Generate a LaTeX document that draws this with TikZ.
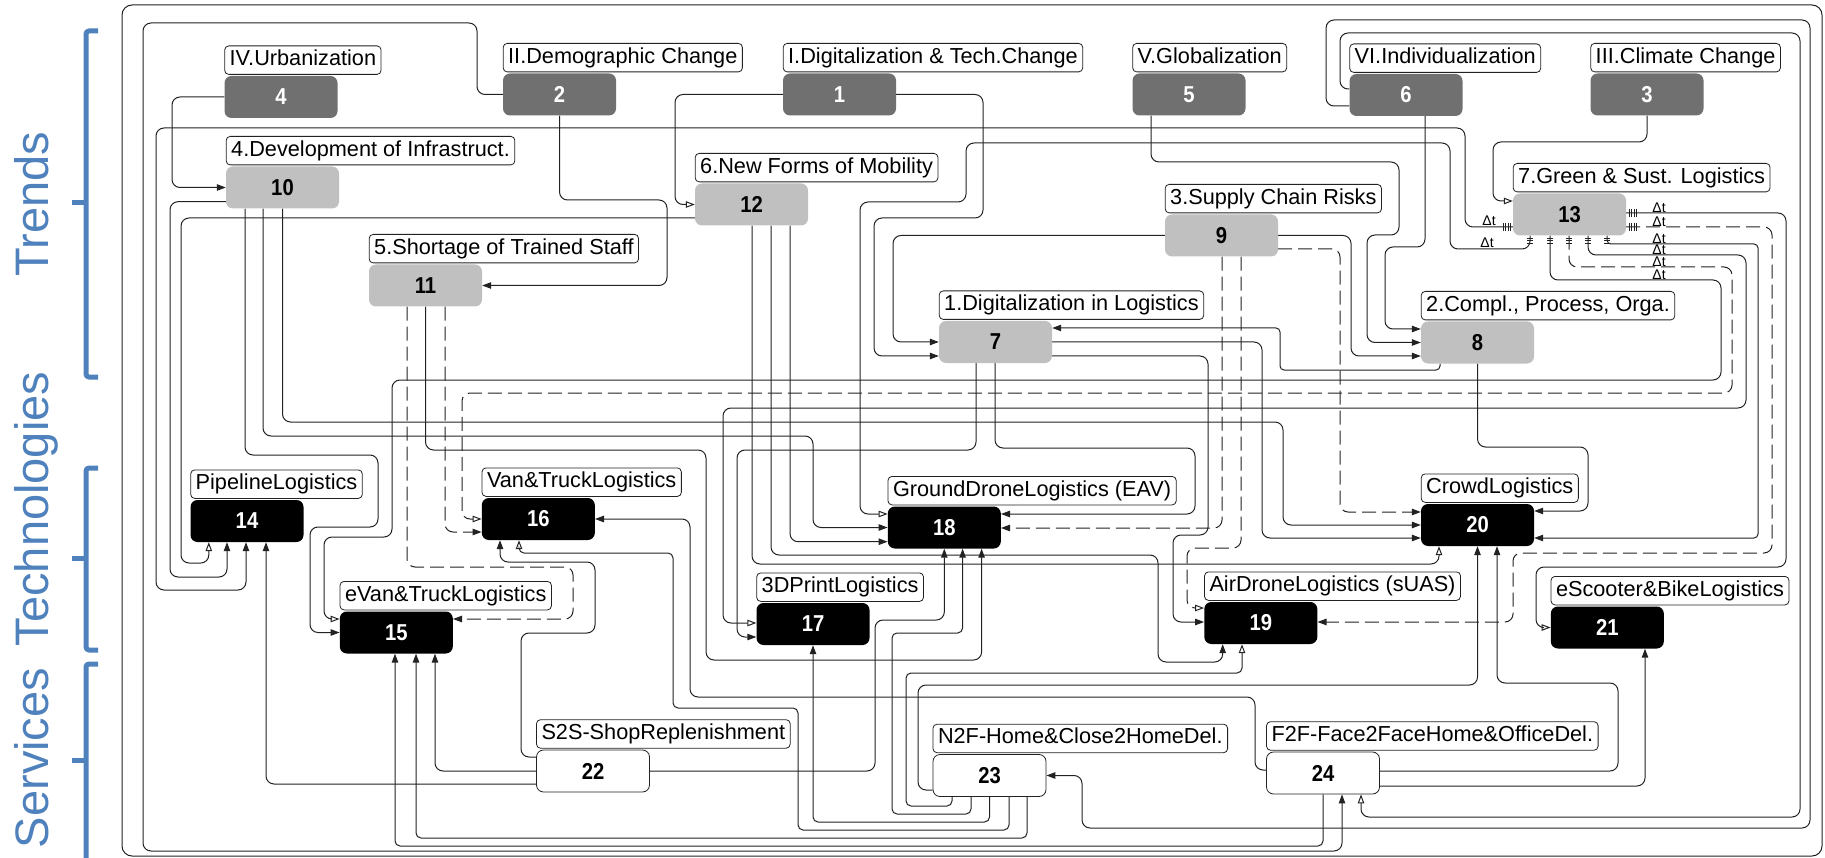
\documentclass[tikz,border=0pt]{standalone}
\usepackage{fontspec}
\setmainfont{Liberation Sans}
\newfontfamily\numfont[FakeStretch=0.88]{Liberation Sans Bold}
\usetikzlibrary{arrows.meta}
\definecolor{dkbox}{HTML}{707070}
\definecolor{ltbox}{HTML}{C0C0C0}
\definecolor{bluet}{HTML}{4F81BD}
\definecolor{lncol}{HTML}{222222}
\pgfdeclarelayer{bg}
\pgfsetlayers{bg,main}
\tikzset{
  box/.style={rectangle, rounded corners=7pt, minimum width=113pt, minimum height=42pt, inner sep=0pt, font=\numfont\fontsize{23pt}{23pt}\selectfont},
  trendbox/.style={box, fill=dkbox, text=white},
  fieldbox/.style={box, fill=ltbox, text=black},
  techbox/.style={box, fill=black, text=white},
  servbox/.style={box, fill=white, draw=lncol, line width=0.8pt, text=black},
  lab/.style={draw=lncol, fill=white, rounded corners=4pt, line width=0.8pt, inner xsep=5pt, inner ysep=0pt, minimum height=28.5pt, text height=15.5pt, text depth=4.5pt, font=\fontsize{21.7pt}{24pt}\selectfont, anchor=south west},
  conn/.style={draw=lncol, line width=1pt, rounded corners=8pt, -{Triangle[length=9pt,width=6.5pt]}},
  oconn/.style={conn, -{Triangle[open,length=9pt,width=6.5pt]}},
  dconn/.style={conn, dash pattern=on 14pt off 6pt},
  doconn/.style={oconn, dash pattern=on 14pt off 6pt},
  tick/.style={draw=lncol, line width=0.8pt},
  dt/.style={font=\fontsize{14pt}{14pt}\selectfont, inner sep=0pt, anchor=base},
  brace/.style={draw=bluet, line width=5pt, rounded corners=3pt, line join=round},
  side/.style={text=bluet, rotate=90, anchor=base, font=\fontsize{47pt}{47pt}\selectfont, inner sep=0pt},
}
\begin{document}
\begin{tikzpicture}[x=1pt,y=-1pt]
\useasboundingbox (0,0) rectangle (1825,858);
% ---------- boxes
\node[trendbox] (n4) at (281,97) {4};
\node[trendbox] (n2) at (559.5,94.5) {2};
\node[trendbox] (n1) at (839.5,94.5) {1};
\node[trendbox] (n5) at (1189,94.5) {5};
\node[trendbox] (n6) at (1406,95) {6};
\node[trendbox] (n3) at (1647,94.5) {3};
\node[fieldbox] (n10) at (282.5,187.5) {10};
\node[fieldbox] (n12) at (751.5,204.5) {12};
\node[fieldbox] (n13) at (1569.5,214.5) {13};
\node[fieldbox] (n9) at (1221.5,235.5) {9};
\node[fieldbox] (n11) at (425.5,285.5) {11};
\node[fieldbox] (n7) at (995.5,342) {7};
\node[fieldbox] (n8) at (1477.5,342.5) {8};
\node[techbox] (n14) at (247,521) {14};
\node[techbox] (n16) at (538.3,519) {16};
\node[techbox] (n18) at (944.3,527.5) {18};
\node[techbox] (n20) at (1477.5,525) {20};
\node[techbox] (n15) at (396.3,632.5) {15};
\node[techbox] (n17) at (813,624) {17};
\node[techbox] (n19) at (1260.8,623) {19};
\node[techbox] (n21) at (1607.3,627.5) {21};
\node[servbox] (n22) at (593,771) {22};
\node[servbox] (n23) at (989.5,775.5) {23};
\node[servbox] (n24) at (1323,773) {24};
% ---------- labels
\node[lab] (l4) at ([yshift=1pt]n4.north west) {IV.Urbanization};
\node[lab] (l2) at ([yshift=1pt]n2.north west) {II.Demographic Change};
\node[lab] (l1) at ([yshift=1pt]n1.north west) {I.Digitalization \& Tech.Change};
\node[lab] (l5) at ([yshift=1pt]n5.north west) {V.Globalization};
\node[lab] (l6) at ([yshift=1pt]n6.north west) {VI.Individualization};
\node[lab] (l3) at ([yshift=1pt]n3.north west) {III.Climate Change};
\node[lab] (l10) at ([yshift=1pt]n10.north west) {4.Development of Infrastruct.};
\node[lab] (l12) at ([yshift=1pt]n12.north west) {6.New Forms of Mobility};
\node[lab] (l13) at ([yshift=1pt]n13.north west) {7.Green \& Sust. Logistics};
\node[lab] (l9) at ([yshift=1pt]n9.north west) {3.Supply Chain Risks};
\node[lab] (l11) at ([yshift=1pt]n11.north west) {5.Shortage of Trained Staff};
\node[lab] (l7) at ([yshift=1pt]n7.north west) {1.Digitalization in Logistics};
\node[lab] (l8) at ([yshift=1pt]n8.north west) {2.Compl., Process, Orga.};
\node[lab] (l14) at ([yshift=1pt]n14.north west) {PipelineLogistics};
\node[lab] (l16) at ([yshift=1pt]n16.north west) {Van\&TruckLogistics};
\node[lab] (l18) at ([yshift=1pt]n18.north west) {GroundDroneLogistics (EAV)};
\node[lab] (l20) at ([yshift=1pt]n20.north west) {CrowdLogistics};
\node[lab] (l15) at ([yshift=1pt]n15.north west) {eVan\&TruckLogistics};
\node[lab] (l17) at ([yshift=1pt]n17.north west) {3DPrintLogistics};
\node[lab] (l19) at ([yshift=1pt]n19.north west) {AirDroneLogistics (sUAS)};
\node[lab] (l21) at ([yshift=1pt]n21.north west) {eScooter\&BikeLogistics};
\node[lab] (l22) at ([yshift=1pt]n22.north west) {S2S-ShopReplenishment};
\node[lab] (l23) at ([yshift=1pt]n23.north west) {N2F-Home\&Close2HomeDel.};
\node[lab] (l24) at ([yshift=1pt]n24.north west) {F2F-Face2FaceHome\&OfficeDel.};
% ---------- connectors
\begin{pgfonlayer}{bg}
\draw[lncol, line width=1pt, rounded corners=10pt] (122,5) rectangle (1822,856);
% trends
\draw[conn] (n4.west) -- (172,97) -- (172,187.5) -- (n10.west);
\draw[conn] (n2.south) -- (559.5,200) -- (667,200) -- (667,285.5) -- (n11.east);
\draw[conn] (n2.west) -- (477,94.5) -- (477,23) -- (143,23) -- (143,851) -- (1342,851) -- (n24.south -| 1342,0);
\draw[oconn] (n1.west) -- (675,94.5) -- (675,204.5) -- (n12.west);
\draw[conn] (n1.east) -- (983,94.5) -- (983,218) -- (874,218) -- (874,356) -- (n7.west |- 0,356);
\draw[oconn] (n3.south) -- (1647,142) -- (1493,142) -- (1493,201) -- (n13.west |- 0,201);
\draw[conn] (n5.south -| 1151,0) -- (1151,162) -- (1399,162) -- (1399,235) -- (1367,235) -- (1367,342.5) -- (n8.west);
\draw[conn] (n6.south -| 1425,0) -- (1425,247) -- (1385,247) -- (1385,329) -- (n8.west |- 0,329);
\draw[oconn] (n6.west |- 0,89) -- (1340,89) -- (1340,33) -- (1800,33) -- (1800,817) -- (1361,817) -- (n24.south -| 1361,0);
\draw[conn] (n6.west |- 0,106) -- (1326,106) -- (1326,20) -- (1810,20) -- (1810,828) -- (1082,828) -- (1082,775.5) -- (n23.east);
% fields
\draw[conn] (n9.west) -- (893,235.5) -- (893,342) -- (n7.west);
\draw[conn] (n9.east) -- (1351,235.5) -- (1351,356) -- (n8.west |- 0,356);
\draw[dconn] (n9.south -| 1222,0) -- (1222,528) -- (n18.east |- 0,528);
\draw[doconn] (n9.south -| 1241,0) -- (1241,548) -- (1187,548) -- (1187,608) -- (n19.west |- 0,608);
\draw[dconn] (n9.east |- 0,249) -- (1340,249) -- (1340,512) -- (n20.west |- 0,512);
\draw[conn, rounded corners=4pt] (n8.south -| 1440,0) -- (1440,370) -- (1280,370) -- (1280,328) -- (n7.east |- 0,328);
\draw[conn] (n8.south) -- (1477.5,447) -- (1588,447) -- (1588,511) -- (n20.east |- 0,511);
\draw[conn] (n7.south -| 976,0) -- (976,450) -- (737,450) -- (737,637) -- (n17.west |- 0,637);
\draw[conn] (n7.south -| 995,0) -- (995,448) -- (1195,448) -- (1195,514) -- (n18.east |- 0,514);
\draw[conn] (n7.east |- 0,356) -- (1208,356) -- (1208,535) -- (1173,535) -- (1173,622) -- (n19.west |- 0,622);
\draw[conn] (n7.east) -- (1262,342) -- (1262,538) -- (n20.west |- 0,538);
\draw[conn] (n10.west |- 0,201.7) -- (170,201.7) -- (170,577) -- (227,577) -- (n14.south -| 227,0);
\draw[conn] (n10.south -| 245,0) -- (245,455) -- (378,455) -- (378,527) -- (310,527) -- (310,632.5) -- (n15.west);
\draw[conn] (n10.south -| 263,0) -- (263,436) -- (813,436) -- (813,527.5) -- (n18.west);
\draw[conn] (n10.south) -- (282.5,422) -- (1283,422) -- (1283,525) -- (n20.west);
\draw[dconn] (n11.south -| 407,0) -- (407,567) -- (573,567) -- (573,619) -- (n15.east |- 0,619);
\draw[dconn] (n11.south -| 445,0) -- (445,532) -- (n16.west |- 0,532);
\draw[conn] (n11.south) -- (425.5,450) -- (706,450) -- (706,660) -- (981.6,660) -- (n18.south -| 981.6,0);
\draw[oconn] (n12.west |- 0,218) -- (181,218) -- (181,563) -- (208.8,563) -- (n14.south -| 208.8,0);
\draw[conn] (n12.south -| 790,0) -- (790,541.7) -- (n18.west |- 0,541.7);
\draw[conn] (n12.south -| 771,0) -- (771,555) -- (1158,555) -- (1158,662) -- (1222.7,662) -- (n19.south -| 1222.7,0);
\draw[oconn] (n12.south -| 752,0) -- (752,564) -- (1439,564) -- (n20.south -| 1439,0);
% green logistics (delays)
\draw[conn] (n13.west |- 0,227) -- (1465,227) -- (1465,128) -- (156,128) -- (156,590) -- (246,590) -- (n14.south -| 246,0);
\draw[oconn] (n13.south -| 1530,0) -- (1530,249) -- (1450,249) -- (1450,143) -- (966,143) -- (966,202) -- (860,202) -- (860,514) -- (n18.west |- 0,514);
\draw[oconn] (n13.south -| 1550,0) -- (1550,280) -- (1721,280) -- (1721,380) -- (392,380) -- (392,537) -- (324,537) -- (324,619) -- (n15.west |- 0,619);
\draw[doconn] (n13.south -| 1569,0) -- (1569,267) -- (1732,267) -- (1732,393) -- (462,393) -- (462,519) -- (n16.west);
\draw[oconn] (n13.south -| 1588,0) -- (1588,255) -- (1746,255) -- (1746,408) -- (723,408) -- (723,623) -- (n17.west |- 0,623);
\draw[conn, rounded corners=4pt] (n13.south -| 1607,0) -- (1607,244) -- (1758,244) -- (1758,538) -- (n20.east |- 0,538);
\draw[dconn] (n13.east |- 0,227) -- (1772,227) -- (1772,553) -- (1513,553) -- (1513,622) -- (n19.east |- 0,622);
\draw[oconn] (n13.east |- 0,213) -- (1786,213) -- (1786,567) -- (1536,567) -- (1536,627.5) -- (n21.west);
% services
\draw[conn] (n22.west |- 0,784) -- (266,784) -- (n14.south -| 266,0);
\draw[conn] (n22.west) -- (435,771) -- (n15.south -| 435,0);
\draw[conn] (n22.west |- 0,757) -- (521,757) -- (521,633) -- (595,633) -- (595,562) -- (500,562) -- (n16.south -| 500,0);
\draw[conn] (n22.east) -- (875,771) -- (875,620) -- (944.3,620) -- (n18.south);
\draw[conn, rounded corners=5pt] (n23.south -| 1027,0) -- (1027,838) -- (416,838) -- (n15.south -| 416,0);
\draw[oconn, rounded corners=5pt] (n23.south -| 1009,0) -- (1009,830) -- (798,830) -- (798,708) -- (673,708) -- (673,553) -- (519,553) -- (n16.south -| 519,0);
\draw[conn, rounded corners=5pt] (n23.south) -- (989.5,822) -- (813,822) -- (n17.south);
\draw[conn, rounded corners=5pt] (n23.south -| 971,0) -- (971,814) -- (892,814) -- (892,633) -- (962.6,633) -- (n18.south -| 962.6,0);
\draw[oconn, rounded corners=5pt] (n23.south -| 952,0) -- (952,806) -- (906,806) -- (906,673) -- (1242,673) -- (n19.south -| 1242,0);
\draw[conn] (n23.west |- 0,790) -- (918,790) -- (918,685) -- (1477.5,685) -- (n20.south);
\draw[conn, rounded corners=5pt] (n24.south) -- (1323,846) -- (395,846) -- (n15.south -| 395,0);
\draw[conn] (n24.west |- 0,770) -- (1255,770) -- (1255,697) -- (690,697) -- (690,519) -- (n16.east);
\draw[conn] (n24.east |- 0,771) -- (1618,771) -- (1618,683) -- (1497,683) -- (n20.south -| 1497,0);
\draw[conn] (n24.east |- 0,786) -- (1645,786) -- (n21.south -| 1645,0);
\end{pgfonlayer}
% ---------- delay marks
\foreach \x in {1503,1505.5,1508,1510.5} \draw[tick] (\x,223) -- (\x,231);
\foreach \y in {213,227} \foreach \x in {1629,1631.5,1634,1636.5} \draw[tick] (\x,\y-4) -- (\x,\y+4);
\foreach \x in {1530,1550,1569,1588,1607} \foreach \y in {238,240.5,243} \draw[tick] (\x-3,\y) -- (\x+3,\y);
\foreach \y/\n in {213/a,227/b,244/c,255/d,267/e,280/f} \node[dt] (dt\n) at (1659,\y) {Δt};
\node[dt] (dtl1) at (1489,226) {Δt};
\node[dt] (dtl2) at (1487,248) {Δt};
% ---------- side captions and braces
\node[side] (tTrends) at (48,204) {Trends};
\node[side] (tTech) at (48,509) {Technologies};
\node[side] (tServ) at (48,758) {Services};
\draw[brace] (98,31) -- (86,31) -- (86,377) -- (98,377);
\draw[brace] (86,203) -- (72,203);
\draw[brace] (98,468) -- (86,468) -- (86,650) -- (98,650);
\draw[brace] (86,558) -- (72,558);
\draw[brace] (98,664) -- (86,664) -- (86,880);
\draw[brace] (86,760) -- (72,760);
\end{tikzpicture}
\end{document}
